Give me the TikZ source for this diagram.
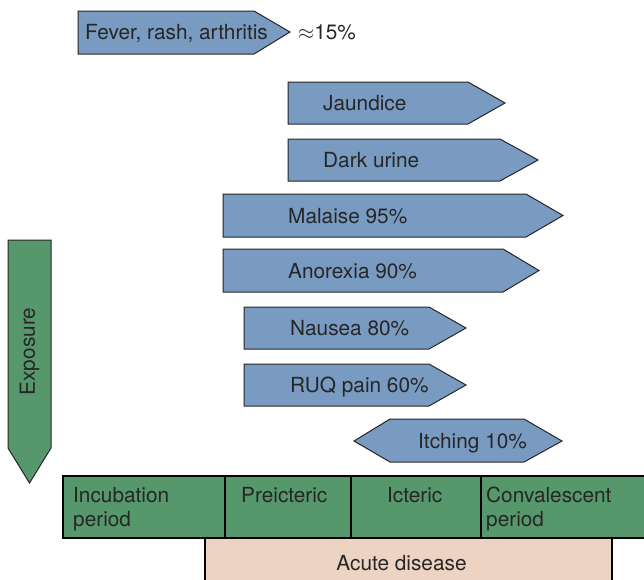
\documentclass[tikz,border=0pt]{standalone}
\usepackage{fontspec}
\setmainfont{TeX Gyre Heros}
\usepackage{tikz}
\usetikzlibrary{positioning}
\definecolor{symblue}{RGB}{121,155,194}
\definecolor{phasegreen}{RGB}{87,151,108}
\definecolor{acutepeach}{RGB}{237,212,194}

\begin{document}
\begin{tikzpicture}[
        x=1pt, y=-1pt,
        font=\fontsize{20.8}{23.5}\selectfont,
        sym/.style={draw=black!85, fill=symblue, line width=1pt, line join=miter},
        phase/.style={draw=black, fill=phasegreen, line width=1.3pt},
        acute/.style={draw=black, fill=acutepeach, line width=1.3pt},
        lbl/.style={anchor=base west, inner sep=0pt, text=black!85},
        celltxt/.style={anchor=north, inner sep=0pt, align=left, text=black!85}
    ]
        \useasboundingbox (0,0) rectangle (644,579);

        % symptom arrows
        \draw[sym] (78,11) -- (254,11) -- (290,32) -- (254,54) -- (78,54) -- cycle;
        \node[lbl] (fever) at (85,39.5) {Fever, rash, arthritis};
        \node[lbl] (feverpct) at (298,39.5) {$\approx$15\%};

        \draw[sym] (288,82) -- (468,82) -- (505,103) -- (468,124) -- (288,124) -- cycle;
        \node[lbl] (jaundice) at (323,110.5) {Jaundice};

        \draw[sym] (288,139) -- (500,139) -- (538,160) -- (500,181) -- (288,181) -- cycle;
        \node[lbl] (urine) at (323,167.5) {Dark urine};

        \draw[sym] (223,194) -- (526,194) -- (563,215.5) -- (526,237) -- (223,237) -- cycle;
        \node[lbl] (malaise) at (288,223) {Malaise 95\%};

        \draw[sym] (223,249) -- (503,249) -- (539,270.5) -- (503,292) -- (223,292) -- cycle;
        \node[lbl] (anorexia) at (288,278) {Anorexia 90\%};

        \draw[sym] (244,307) -- (429,307) -- (466,328) -- (429,349) -- (244,349) -- cycle;
        \node[lbl] (nausea) at (290,335.5) {Nausea 80\%};

        \draw[sym] (244,364) -- (429,364) -- (466,385) -- (429,406) -- (244,406) -- cycle;
        \node[lbl] (ruq) at (290,392.5) {RUQ pain 60\%};

        \draw[sym] (354,441) -- (390,419) -- (524,419) -- (562,441) -- (524,462) -- (390,462) -- cycle;
        \node[lbl] (itching) at (418,448.5) {Itching 10\%};

        % exposure
        \draw[sym, fill=phasegreen] (8,240) -- (51,240) -- (51,448) -- (29.5,483) -- (8,448) -- cycle;
        \node[inner sep=0pt, rotate=90, text=black!85] (exposure) at (29.5,351.5) {Exposure};

        % phases
        \draw[acute] (205,538) rectangle (612,590);
        \node[inner sep=0pt, text=black!85] (acutetxt) at (401.5,563) {Acute disease};
        \draw[phase] (63,476) rectangle (650,538);
        \draw[phase] (225,476) -- (225,538);
        \draw[phase] (351,476) -- (351,538);
        \draw[phase] (481,476) -- (481,538);
        \node[lbl] (incub) at (73,502.5) {Incubation};
        \node[lbl] (incub2) at (73,526) {period};
        \node[lbl] (preict) at (241,502.5) {Preicteric};
        \node[lbl] (icteric) at (387,502.5) {Icteric};
        \node[lbl] (conval) at (486,502.5) {Convalescent};
        \node[lbl] (conval2) at (486,526) {period};
    \end{tikzpicture}
\end{document}
